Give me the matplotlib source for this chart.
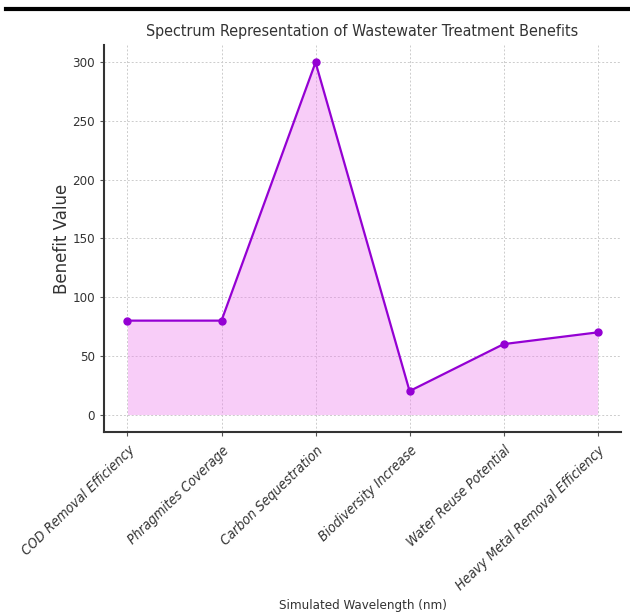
import matplotlib
matplotlib.use("Agg")
import matplotlib.pyplot as plt
from matplotlib.lines import Line2D

categories = ["COD Removal Efficiency", "Phragmites Coverage", "Carbon Sequestration",
              "Biodiversity Increase", "Water Reuse Potential", "Heavy Metal Removal Efficiency"]
values = [80, 80, 300, 20, 60, 70]
yticks = [0, 50, 100, 150, 200, 250, 300]

fig = plt.figure(figsize=(6.3, 6.13), dpi=100)
ax = fig.add_axes([0.165, 0.295, 0.821, 0.632])

x = list(range(len(categories)))
ax.fill_between(x, values, 0, color="violet", alpha=0.4, linewidth=0)
ax.plot(x, values, color="darkviolet", marker="o", markersize=5, linewidth=1.6)

ax.set_xlim(-0.25, len(categories) - 0.75)
ax.set_ylim(-15, 315)
ax.set_xticks(x)
ax.set_xticklabels(categories, rotation=44, ha="right", rotation_mode="anchor",
                   fontsize=10, fontstretch="condensed", style="italic", color="#333333")
ax.set_yticks(yticks)
ax.set_yticklabels([str(v) for v in yticks], fontsize=9.5, fontstretch="condensed", color="#333333")
ax.grid(True, linestyle=(0, (2, 2)), color="#cccccc", linewidth=0.7)
ax.set_axisbelow(True)
for s in ["top", "right"]:
    ax.spines[s].set_visible(False)
for s in ["left", "bottom"]:
    ax.spines[s].set_linewidth(1.5)
    ax.spines[s].set_color("#333333")
ax.tick_params(length=3, color="#555555")
ax.tick_params(axis="x", pad=5)

ax.set_title("Spectrum Representation of Wastewater Treatment Benefits", fontsize=11.5,
             fontstretch="condensed", color="#333333", pad=6)
ax.set_ylabel("Benefit Value", fontsize=12, color="#333333")
ax.yaxis.set_label_coords(-0.064, 0.5)
fig.text(0.576, 0.013, "Simulated Wavelength (nm)", fontsize=9.5, fontstretch="condensed",
         color="#333333", ha="center", va="center")

fig.add_artist(Line2D([0.01, 1.0], [0.986, 0.986], transform=fig.transFigure,
                      color="black", linewidth=3))

fig.savefig("out.png", dpi=100)
